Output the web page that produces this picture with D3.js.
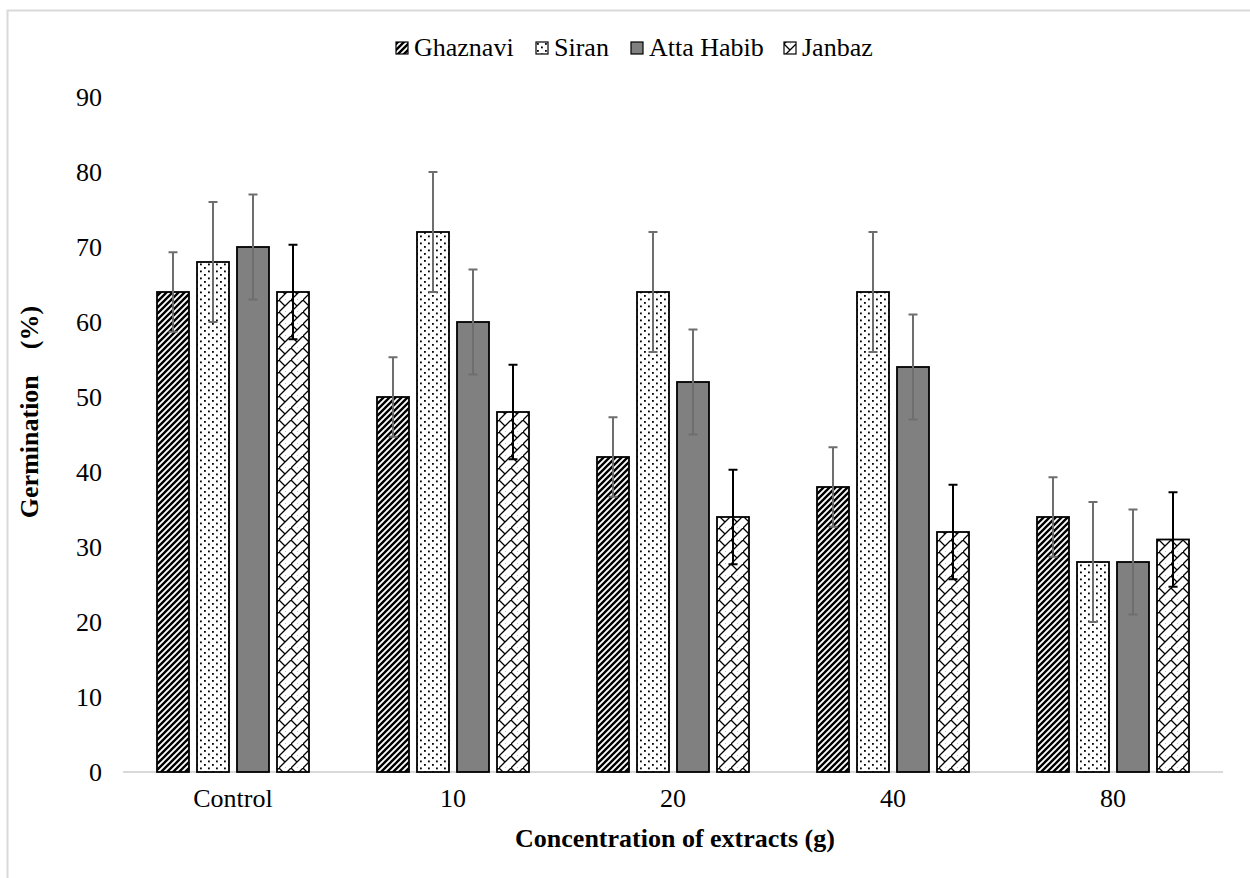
<!DOCTYPE html>
<html>
<head>
<meta charset="utf-8">
<script src="https://cdn.jsdelivr.net/npm/d3@7"></script>
</head>
<body style="margin:0">
<div id="chart"><svg width="1250" height="878"></svg></div>
<script>
// data
const categories = ["Control", "10", "20", "40", "80"];
const series = ["Ghaznavi", "Siran", "Atta Habib", "Janbaz"];
const ghaznavi = [64, 50, 42, 38, 34];
const siran = [68, 72, 64, 64, 28];
const attaHabib = [70, 60, 52, 54, 28];
const janbaz = [64, 48, 34, 32, 31];
// error (+/-) for each series
const errors = [5.3, 8, 7, 6.3];
const yTicks = [0, 10, 20, 30, 40, 50, 60, 70, 80, 90];

const values = [ghaznavi, siran, attaHabib, janbaz];
const patternIds = ["pGhaz", "pSiran", "pAtta", "pJanbaz"];
const errColor = ["#6e6e6e", "#6e6e6e", "#6e6e6e", "#000"];
const serif = "Liberation Serif";
// legend item left edges (layout)
const legendX = [396, 536, 631, 784];

const svg = d3.select("#chart svg");
const plotLeft = 123, plotRight = 1223, plotTop = 97, plotBottom = 772;

// chart border
svg.append("rect")
    .attr("x", 7.5).attr("y", 10.5)
    .attr("width", 1260).attr("height", 900)
    .attr("fill", "none").attr("stroke", "#d9d9d9").attr("stroke-width", 2);

const defs = svg.append("defs");

// wide upward diagonal
let p = defs.append("pattern").attr("id", "pGhaz")
    .attr("patternUnits", "userSpaceOnUse").attr("width", 6).attr("height", 6);
p.append("rect").attr("width", 6).attr("height", 6).attr("fill", "#fff");
p.append("path").attr("d", "M-1,7 L7,-1 M-4,4 L4,-4 M2,10 L10,2")
    .attr("stroke", "#000").attr("stroke-width", 2.4);

// dots
p = defs.append("pattern").attr("id", "pSiran")
    .attr("patternUnits", "userSpaceOnUse").attr("width", 8).attr("height", 7);
p.append("rect").attr("width", 8).attr("height", 7).attr("fill", "#fff");
p.append("rect").attr("x", 1).attr("y", 1).attr("width", 1.8).attr("height", 1.8).attr("fill", "#000");
p.append("rect").attr("x", 5).attr("y", 4.5).attr("width", 1.8).attr("height", 1.8).attr("fill", "#000");

// solid grey
p = defs.append("pattern").attr("id", "pAtta")
    .attr("patternUnits", "userSpaceOnUse").attr("width", 4).attr("height", 4);
p.append("rect").attr("width", 4).attr("height", 4).attr("fill", "#808080");

// zigzag lattice
p = defs.append("pattern").attr("id", "pJanbaz")
    .attr("patternUnits", "userSpaceOnUse").attr("width", 12).attr("height", 12);
p.append("rect").attr("width", 12).attr("height", 12).attr("fill", "#fff");
p.append("path").attr("d", "M0,12 L12,0 M0,0 L6,6 M6,12 L8,14")
    .attr("stroke", "#000").attr("stroke-width", 1.3).attr("fill", "none");

const x0 = d3.scaleBand().domain(categories).range([plotLeft, plotRight]);
const x1 = d3.scaleBand().domain(series).range([0, x0.bandwidth()])
    .paddingInner(0.2).paddingOuter(0.85);
const y = d3.scaleLinear().domain([0, 90]).range([plotBottom, plotTop]);

// y tick labels
svg.append("g").selectAll("text")
    .data(yTicks)
    .join("text")
    .attr("font-family", serif)
    .attr("x", 102)
    .attr("y", d => y(d) + 9)
    .attr("text-anchor", "end")
    .attr("font-size", 26)
    .text(d => d);

// x axis line
svg.append("line")
    .attr("x1", plotLeft).attr("x2", plotRight)
    .attr("y1", y(0)).attr("y2", y(0))
    .attr("stroke", "#d9d9d9").attr("stroke-width", 2);

// bars
const groups = svg.append("g").selectAll("g")
    .data(categories)
    .join("g")
    .attr("transform", d => `translate(${x0(d)},0)`);

groups.selectAll("rect")
    .data((c, ci) => series.map((s, si) => ({ s, si, v: values[si][ci] })))
    .join("rect")
    .attr("x", d => x1(d.s))
    .attr("y", d => y(d.v))
    .attr("width", x1.bandwidth())
    .attr("height", d => y(0) - y(d.v))
    .attr("fill", d => `url(#${patternIds[d.si]})`)
    .attr("stroke", "#000")
    .attr("stroke-width", 1.8);

// error bars
const eb = groups.selectAll("g.err")
    .data((c, ci) => series.map((s, si) => ({ s, si, v: values[si][ci], e: errors[si] })))
    .join("g")
    .attr("class", "err")
    .attr("stroke", d => errColor[d.si])
    .attr("stroke-width", 2);
const cx = d => x1(d.s) + x1.bandwidth() / 2;
eb.append("line")
    .attr("x1", cx).attr("x2", cx)
    .attr("y1", d => y(d.v + d.e)).attr("y2", d => y(d.v - d.e));
eb.append("line")
    .attr("x1", d => cx(d) - 4.5).attr("x2", d => cx(d) + 4.5)
    .attr("y1", d => y(d.v + d.e)).attr("y2", d => y(d.v + d.e));
eb.append("line")
    .attr("x1", d => cx(d) - 4.5).attr("x2", d => cx(d) + 4.5)
    .attr("y1", d => y(d.v - d.e)).attr("y2", d => y(d.v - d.e));

// x tick labels
svg.append("g").selectAll("text")
    .data(categories)
    .join("text")
    .attr("font-family", serif)
    .attr("x", d => x0(d) + x0.bandwidth() / 2)
    .attr("y", 807)
    .attr("text-anchor", "middle")
    .attr("font-size", 26)
    .text(d => d);

// axis titles
svg.append("text")
    .attr("font-family", serif)
    .attr("x", 675).attr("y", 847)
    .attr("text-anchor", "middle")
    .attr("font-size", 26)
    .attr("font-weight", "bold")
    .text("Concentration of extracts (g)");

svg.append("text")
    .attr("font-family", serif)
    .attr("transform", "translate(38,412) rotate(-90)")
    .attr("text-anchor", "middle")
    .attr("font-size", 26)
    .attr("font-weight", "bold")
    .attr("xml:space", "preserve")
    .text("Germination    (%)");

// legend
const legend = svg.append("g").selectAll("g")
    .data(series)
    .join("g")
    .attr("transform", (d, i) => `translate(${legendX[i]},56)`);
legend.append("rect")
    .attr("x", 0).attr("y", -14)
    .attr("width", 12).attr("height", 12)
    .attr("fill", (d, i) => `url(#${patternIds[i]})`)
    .attr("stroke", "#000").attr("stroke-width", 1.2);
legend.append("text")
    .attr("font-family", serif)
    .attr("x", 18).attr("y", 0)
    .attr("font-size", 26)
    .text(d => d);
</script>
</body>
</html>
